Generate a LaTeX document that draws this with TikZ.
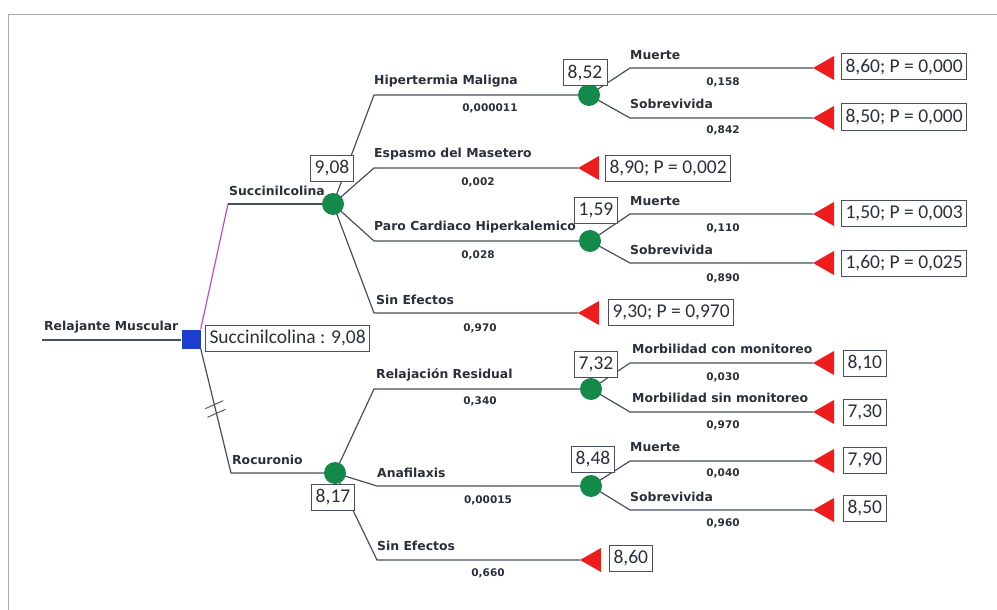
\documentclass[tikz,border=0pt]{standalone}
\usepackage{fontspec}
\setmainfont{Carlito}
\newfontfamily\lblfont{DejaVu Sans}
\usetikzlibrary{calc}

\definecolor{edgec}{HTML}{46505E}
\definecolor{chancec}{HTML}{13894A}
\definecolor{termc}{HTML}{EE1C1C}
\definecolor{decisc}{HTML}{1C3FD0}
\definecolor{bestc}{HTML}{C848C0}
\definecolor{inkc}{HTML}{2A303A}
\definecolor{framec}{HTML}{A8ADB4}

\tikzset{
  edge/.style={draw=edgec, line width=1.2pt},
  bestedge/.style={draw=bestc, line width=1.2pt},
  chancenode/.style={circle, fill=chancec, minimum size=22pt, inner sep=0pt},
  decisnode/.style={rectangle, fill=decisc, minimum size=19pt, inner sep=0pt},
  valbox/.style={draw=edgec, line width=1pt, fill=white, inner xsep=4pt, inner ysep=0pt,
    minimum height=26pt, font=\fontsize{19.5}{21}\selectfont, text=inkc},
  lbl/.style={anchor=west, inner sep=0pt, font=\lblfont\bfseries\fontsize{12.4}{14}\selectfont, text=inkc},
  prob/.style={inner sep=0pt, font=\lblfont\bfseries\fontsize{10.5}{12}\selectfont, text=inkc},
}
% terminal node: red triangle with its tip at the given coordinate
\newcommand\termtri[1]{\fill[termc] (#1) -- ++(21,-12) -- ++(0,24) -- cycle;}

\begin{document}
\begin{tikzpicture}[x=1pt,y=-1pt]
\useasboundingbox (0,0) rectangle (997,610);

% page frame
\draw[framec, line width=0.8pt] (8,610) -- (8,14) -- (997,14);

% ---------- positions ----------
\coordinate (sqpos) at (191,339);
\coordinate (s0) at (228,204);
\coordinate (r0) at (231,473);
\coordinate (c1) at (333,204);
\coordinate (c4) at (335,473);
\coordinate (bxa) at (374,0);
\coordinate (c2) at (589,95);
\coordinate (c3) at (590,241);
\coordinate (c5) at (591,389);
\coordinate (c6) at (591,486);
\coordinate (bxb) at (630,0);
% terminal tips
\coordinate (tEsp) at (578,168);
\coordinate (tSinS) at (578,313);
\coordinate (tSinR) at (580,560);
\coordinate (tHM) at (813,68);
\coordinate (tHS) at (813,118);
\coordinate (tPM) at (813,214);
\coordinate (tPS) at (813,263);
\coordinate (tMc) at (813,363);
\coordinate (tMs) at (813,412);
\coordinate (tAM) at (813,461);
\coordinate (tAS) at (813,510);

% ---------- root ----------
\node[decisnode] (sq) at (sqpos) {};
\node[lbl] (root) at (44,327) {Relajante Muscular};
\coordinate (rootstart) at (42,340);
\draw[edge] (rootstart) -- (sq.west |- rootstart);

% ---------- first-level branches ----------
\draw[bestedge] (sq.north east) -- (s0);
\draw[edge] (s0) -- (c1);
\draw[edge] (sq.south east) -- (r0) -- (c4);
% double slash on the discarded branch
\draw[edge, line width=0.9pt] ($(sq.south east)!0.45!(r0)$) ++(-9,4) -- ++(18,-8);
\draw[edge, line width=0.9pt] ($(sq.south east)!0.52!(r0)$) ++(-9,4) -- ++(18,-8);
\node[lbl] at (229,191) {Succinilcolina};
\node[lbl] at (232,460) {Rocuronio};

% ---------- Succinilcolina ----------
\draw[edge] (c1) -- (c2 -| bxa) -- (c2);
\draw[edge] (c1) -- (tEsp -| bxa) -- (tEsp);
\draw[edge] (c1) -- (c3 -| bxa) -- (c3);
\draw[edge] (c1) -- (tSinS -| bxa) -- (tSinS);
\node[lbl] at (374,81) {Hipertermia Maligna};
\node[prob] at (490,108) {0,000011};
\node[lbl] at (374,154) {Espasmo del Masetero};
\node[prob] at (478,182) {0,002};
\node[lbl] at (374,227) {Paro Cardiaco Hiperkalemico};
\node[prob] at (478,255) {0,028};
\node[lbl] at (376,300) {Sin Efectos};
\node[prob] at (480,328) {0,970};

% Hipertermia Maligna
\draw[edge] (c2) -- (tHM -| bxb) -- (tHM);
\draw[edge] (c2) -- (tHS -| bxb) -- (tHS);
\node[lbl] at (630,55) {Muerte};
\node[prob] at (723,82) {0,158};
\node[lbl] at (630,104) {Sobrevivida};
\node[prob] at (723,130) {0,842};

% Paro Cardiaco Hiperkalemico
\draw[edge] (c3) -- (tPM -| bxb) -- (tPM);
\draw[edge] (c3) -- (tPS -| bxb) -- (tPS);
\node[lbl] at (630,201) {Muerte};
\node[prob] at (723,228) {0,110};
\node[lbl] at (630,250) {Sobrevivida};
\node[prob] at (723,278) {0,890};

% ---------- Rocuronio ----------
\draw[edge] (c4) -- (c5 -| bxa) -- (c5);
\draw[edge] (c4) -- ($(c6 -| bxa)+(3,0)$) -- (c6);
\draw[edge] (c4) -- ($(tSinR -| bxa)+(3,0)$) -- (tSinR);
\node[lbl] at (376,375) {Relajación Residual};
\node[prob] at (480,401) {0,340};
\node[lbl] at (377,473) {Anafilaxis};
\node[prob] at (488,500) {0,00015};
\node[lbl] at (377,546) {Sin Efectos};
\node[prob] at (488,573) {0,660};

% Relajacion Residual
\draw[edge] (c5) -- (tMc -| bxb) -- (tMc);
\draw[edge] (c5) -- (tMs -| bxb) -- (tMs);
\node[lbl] at (632,349) {Morbilidad con monitoreo};
\node[prob] at (723,377) {0,030};
\node[lbl] at (632,398) {Morbilidad sin monitoreo};
\node[prob] at (723,425) {0,970};

% Anafilaxis
\draw[edge] (c6) -- (tAM -| bxb) -- (tAM);
\draw[edge] (c6) -- (tAS -| bxb) -- (tAS);
\node[lbl] at (630,447) {Muerte};
\node[prob] at (723,473) {0,040};
\node[lbl] at (630,497) {Sobrevivida};
\node[prob] at (723,523) {0,960};

% ---------- chance nodes ----------
\foreach \c in {c1,c2,c3,c4,c5,c6} {\node[chancenode] (n\c) at (\c) {};}

% ---------- terminal nodes ----------
\foreach \t in {tEsp,tSinS,tSinR,tHM,tHS,tPM,tPS,tMc,tMs,tAM,tAS} {\termtri{\t}}

% ---------- value boxes ----------
\node[valbox, anchor=west] (dec) at (205,338) {Succinilcolina : 9,08};
\node[valbox, minimum width=43pt] (v908) at (332,168) {9,08};
\node[valbox, minimum width=41pt] (v817) at (333,497) {8,17};
\node[valbox, minimum width=44pt] (v852) at (585,73) {8,52};
\node[valbox, minimum width=42pt] (v159) at (596,210) {1,59};
\node[valbox, minimum width=40pt] (v732) at (596,364) {7,32};
\node[valbox, minimum width=42pt] (v848) at (593,459) {8,48};
\node[valbox, anchor=west] (v890) at (605,168) {8,90; P = 0,002};
\node[valbox, anchor=west] (v930) at (608,312) {9,30; P = 0,970};
\node[valbox, minimum width=41pt, anchor=west] (v860b) at (609,558) {8,60};
\node[valbox, anchor=west] (vHM) at (841,67) {8,60; P = 0,000};
\node[valbox, anchor=west] (vHS) at (841,117) {8,50; P = 0,000};
\node[valbox, anchor=west] (vPM) at (841,213) {1,50; P = 0,003};
\node[valbox, anchor=west] (vPS) at (841,263) {1,60; P = 0,025};
\node[valbox, minimum width=40pt, anchor=west] (vMc) at (843,363) {8,10};
\node[valbox, minimum width=40pt, anchor=west] (vMs) at (843,412) {7,30};
\node[valbox, minimum width=40pt, anchor=west] (vAM) at (843,460) {7,90};
\node[valbox, minimum width=40pt, anchor=west] (vAS) at (843,508) {8,50};
\end{tikzpicture}
\end{document}
